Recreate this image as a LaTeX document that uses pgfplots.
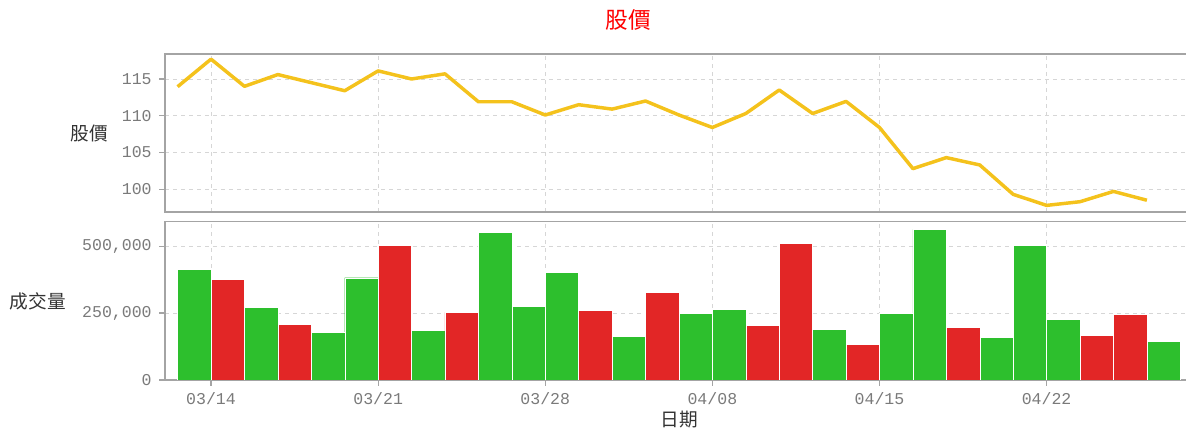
\documentclass[border=0pt]{standalone}
\usepackage{pgfplots}
\pgfplotsset{compat=1.18}
\usepackage{fontspec}
\setmainfont{Liberation Sans}
\newfontfamily\cjk{Noto Sans CJK TC}
\newfontfamily\tickfont{Liberation Mono}
\definecolor{upred}{HTML}{E22626}
\definecolor{downgreen}{HTML}{2DBF2D}
\definecolor{gold}{HTML}{F4C21C}
\definecolor{axisgray}{HTML}{A4A4A4}
\definecolor{gridgray}{HTML}{D6D6D6}
\definecolor{ticktext}{HTML}{7A7A7A}
\pgfplotsset{
  panel/.style={
    scale only axis, width=768.75pt, anchor=south west,
    xmin=-0.377, xmax=30.29,
    axis line style={axisgray, line width=1.1pt},
    tick style={axisgray, line width=0.8pt},
    tick align=outside, major tick length=4.5pt, tick pos=left,
    grid=major,
    major grid style={gridgray, dash pattern=on 3pt off 3pt, line width=0.6pt},
    xtick={1,6,11,16,21,26},
    ticklabel style={font=\tickfont\fontsize{12.4}{13}\selectfont, text=ticktext},
    yticklabel style={xshift=-2pt},
  }
}
\begin{document}
\begin{tikzpicture}
\path[use as bounding box] (0,0) rectangle (889.5pt,324pt);
% price panel
\begin{axis}[panel, at={(123.75pt,165pt)}, height=118.5pt,
  ymin=96.9, ymax=118.4,
  ytick={100,105,110,115}, yticklabels={100,105,110,115},
  xticklabels={}, every x tick/.append style={draw=none}]
\addplot[gold, line width=2.6pt, line join=round, no markers] coordinates {
(0,113.95) (1,117.7) (2,114.0) (3,115.6) (4,114.5) (5,113.4) (6,116.1) (7,115.0)
(8,115.7) (9,111.9) (10,111.9) (11,110.1) (12,111.5) (13,110.9) (14,112.0) (15,110.1)
(16,108.4) (17,110.3) (18,113.5) (19,110.3) (20,111.95) (21,108.4) (22,102.8) (23,104.3)
(24,103.3) (25,99.3) (26,97.8) (27,98.3) (28,99.7) (29,98.5)};
\end{axis}
% volume panel
\begin{axis}[panel, at={(123.75pt,39pt)}, height=118.7pt,
  ymin=0, ymax=590700, scaled y ticks=false,
  ytick={0,250000,500000}, yticklabels={0,{250,000},{500,000}},
  xticklabels={03/14,03/21,03/28,04/08,04/15,04/22},
  xticklabel style={yshift=-1pt}]
\addplot[ybar, bar width=1, bar shift=0pt, fill=downgreen, draw=white, line width=0.3pt] coordinates {
(0.5,413000) (2.5,272400) (4.5,179100) (5.5,381800) (7.5,184100) (9.5,549800)
(10.5,273600) (11.5,401700) (13.5,164200) (15.5,247500) (16.5,263700) (19.5,190300)
(21.5,247500) (22.5,562200) (24.5,158000) (25.5,503700) (26.5,227600) (29.5,145500)};
\addplot[ybar, bar width=1, bar shift=0pt, fill=upred, draw=white, line width=0.3pt] coordinates {
(1.5,376900) (3.5,207700) (6.5,502500) (8.5,252500) (12.5,261200) (14.5,328400)
(17.5,204000) (18.5,510000) (20.5,134300) (23.5,197800) (27.5,165400) (28.5,243800)};
\end{axis}
\node[font=\cjk\fontsize{17}{20}\selectfont, text=red] at (471pt,309pt) {股價};
\node[font=\cjk\fontsize{14}{16}\selectfont, text=black!80] at (66.75pt,224.25pt) {股價};
\node[font=\cjk\fontsize{14}{16}\selectfont, text=black!80] at (28.5pt,98.25pt) {成交量};
\node[font=\cjk\fontsize{14}{16}\selectfont, text=black!80] at (509.6pt,9pt) {日期};
\end{tikzpicture}
\end{document}
